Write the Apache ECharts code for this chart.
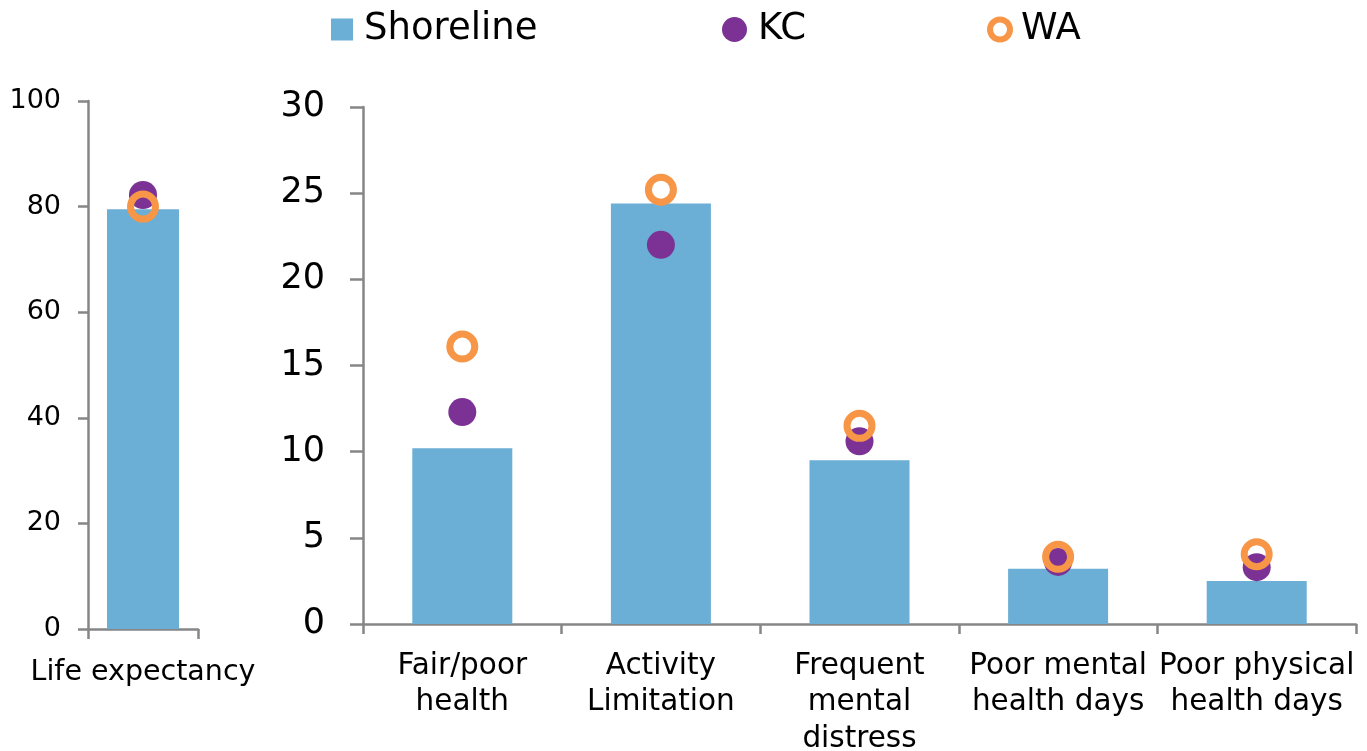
<!DOCTYPE html>
<html>
<head>
<meta charset="utf-8">
<script src="https://cdn.jsdelivr.net/npm/echarts@6/dist/echarts.min.js"></script>
<style>
  html, body { margin: 0; padding: 0; background: #fff; }
  #chart { width: 1367px; height: 751px; }
</style>
</head>
<body>
<div id="chart"></div>
<script>
// ---- Data ----
const seriesNames = ['Shoreline', 'KC', 'WA'];

const lifeCategories = ['Life expectancy'];
const lifeShoreline = [79.5];
const lifeKC = [82.2];
const lifeWA = [80.0];

const categories = ['Fair/poor\nhealth', 'Activity\nLimitation', 'Frequent\nmental\ndistress', 'Poor mental\nhealth days', 'Poor physical\nhealth days'];
const shoreline = [10.2, 24.4, 9.5, 3.2, 2.5];
const kc = [12.3, 22.0, 10.6, 3.6, 3.3];
const wa = [16.1, 25.2, 11.5, 3.9, 4.05];

const leftAxisTicks = { min: 0, max: 100, interval: 20 };
const rightAxisTicks = { min: 0, max: 30, interval: 5 };

// ---- Styles ----
const FONT = 'DejaVu Sans';
const BAR_COLOR = '#6BAED6';
const KC_COLOR = '#7B3294';
const WA_COLOR = '#F79646';
const AXIS_COLOR = '#868686';

const chart = echarts.init(document.getElementById('chart'), null, { renderer: 'canvas' });

const axisLine = { show: true, lineStyle: { color: AXIS_COLOR, width: 2.5 } };
const tickStyle = { color: AXIS_COLOR, width: 2.5 };

const option = {
  animation: false,
  backgroundColor: '#fff',
  legend: [
    {
      data: [seriesNames[0]],
      left: 326, top: 6,
      itemWidth: 22, itemHeight: 22,
      icon: 'rect',
      textStyle: { fontFamily: FONT, fontSize: 37, color: '#000', padding: [0, 0, 0, 6] }
    },
    {
      data: [seriesNames[1]],
      left: 717, top: 6,
      itemWidth: 25, itemHeight: 25,
      icon: 'circle',
      textStyle: { fontFamily: FONT, fontSize: 37, color: '#000', padding: [0, 0, 0, 6] }
    },
    {
      data: [{ name: seriesNames[2], itemStyle: { color: 'transparent', borderColor: WA_COLOR, borderWidth: 6 } }],
      left: 982, top: 6,
      itemWidth: 20, itemHeight: 20,
      icon: 'circle',
      textStyle: { fontFamily: FONT, fontSize: 37, color: '#000', padding: [0, 0, 0, 6] }
    }
  ],
  grid: [
    { left: 88, top: 101, width: 110, height: 528, containLabel: false, outerBoundsMode: 'none' },
    { left: 363, top: 107, width: 993, height: 517, containLabel: false, outerBoundsMode: 'none' }
  ],
  xAxis: [
    {
      type: 'category', gridIndex: 0, data: lifeCategories,
      axisLine: axisLine,
      axisTick: { show: true, length: 10, lineStyle: tickStyle },
      axisLabel: { fontFamily: FONT, fontSize: 28.5, color: '#000', margin: 26, lineHeight: 36, interval: 0 }
    },
    {
      type: 'category', gridIndex: 1, data: categories,
      axisLine: axisLine,
      axisTick: { show: true, length: 10, lineStyle: tickStyle },
      axisLabel: { fontFamily: FONT, fontSize: 29.5, color: '#000', margin: 24, lineHeight: 36.5, interval: 0 }
    }
  ],
  yAxis: [
    {
      type: 'value', gridIndex: 0,
      min: leftAxisTicks.min, max: leftAxisTicks.max, interval: leftAxisTicks.interval,
      axisLine: axisLine,
      axisTick: { show: true, length: 10, lineStyle: tickStyle },
      splitLine: { show: false },
      axisLabel: { fontFamily: FONT, fontSize: 27, color: '#000', margin: 27 }
    },
    {
      type: 'value', gridIndex: 1,
      min: rightAxisTicks.min, max: rightAxisTicks.max, interval: rightAxisTicks.interval,
      axisLine: axisLine,
      axisTick: { show: true, length: 13, lineStyle: tickStyle },
      splitLine: { show: false },
      axisLabel: { fontFamily: FONT, fontSize: 35, color: '#000', margin: 38 }
    }
  ],
  series: [
    { name: 'Shoreline', type: 'bar', xAxisIndex: 0, yAxisIndex: 0, data: lifeShoreline, barWidth: 72, itemStyle: { color: BAR_COLOR }, z: 2 },
    { name: 'KC', type: 'scatter', xAxisIndex: 0, yAxisIndex: 0, data: lifeKC, symbol: 'circle', symbolSize: 28, itemStyle: { color: KC_COLOR, opacity: 1 }, z: 3 },
    { name: 'WA', type: 'scatter', xAxisIndex: 0, yAxisIndex: 0, data: lifeWA, symbol: 'circle', symbolSize: 25, itemStyle: { color: 'transparent', borderColor: WA_COLOR, borderWidth: 7, opacity: 1 }, z: 4 },
    { name: 'Shoreline', type: 'bar', xAxisIndex: 1, yAxisIndex: 1, data: shoreline, barWidth: 100, itemStyle: { color: BAR_COLOR }, z: 2 },
    { name: 'KC', type: 'scatter', xAxisIndex: 1, yAxisIndex: 1, data: kc, symbol: 'circle', symbolSize: 28, itemStyle: { color: KC_COLOR, opacity: 1 }, z: 3 },
    { name: 'WA', type: 'scatter', xAxisIndex: 1, yAxisIndex: 1, data: wa, symbol: 'circle', symbolSize: 25, itemStyle: { color: 'transparent', borderColor: WA_COLOR, borderWidth: 7, opacity: 1 }, z: 4 }
  ]
};

chart.setOption(option);
</script>
</body>
</html>
